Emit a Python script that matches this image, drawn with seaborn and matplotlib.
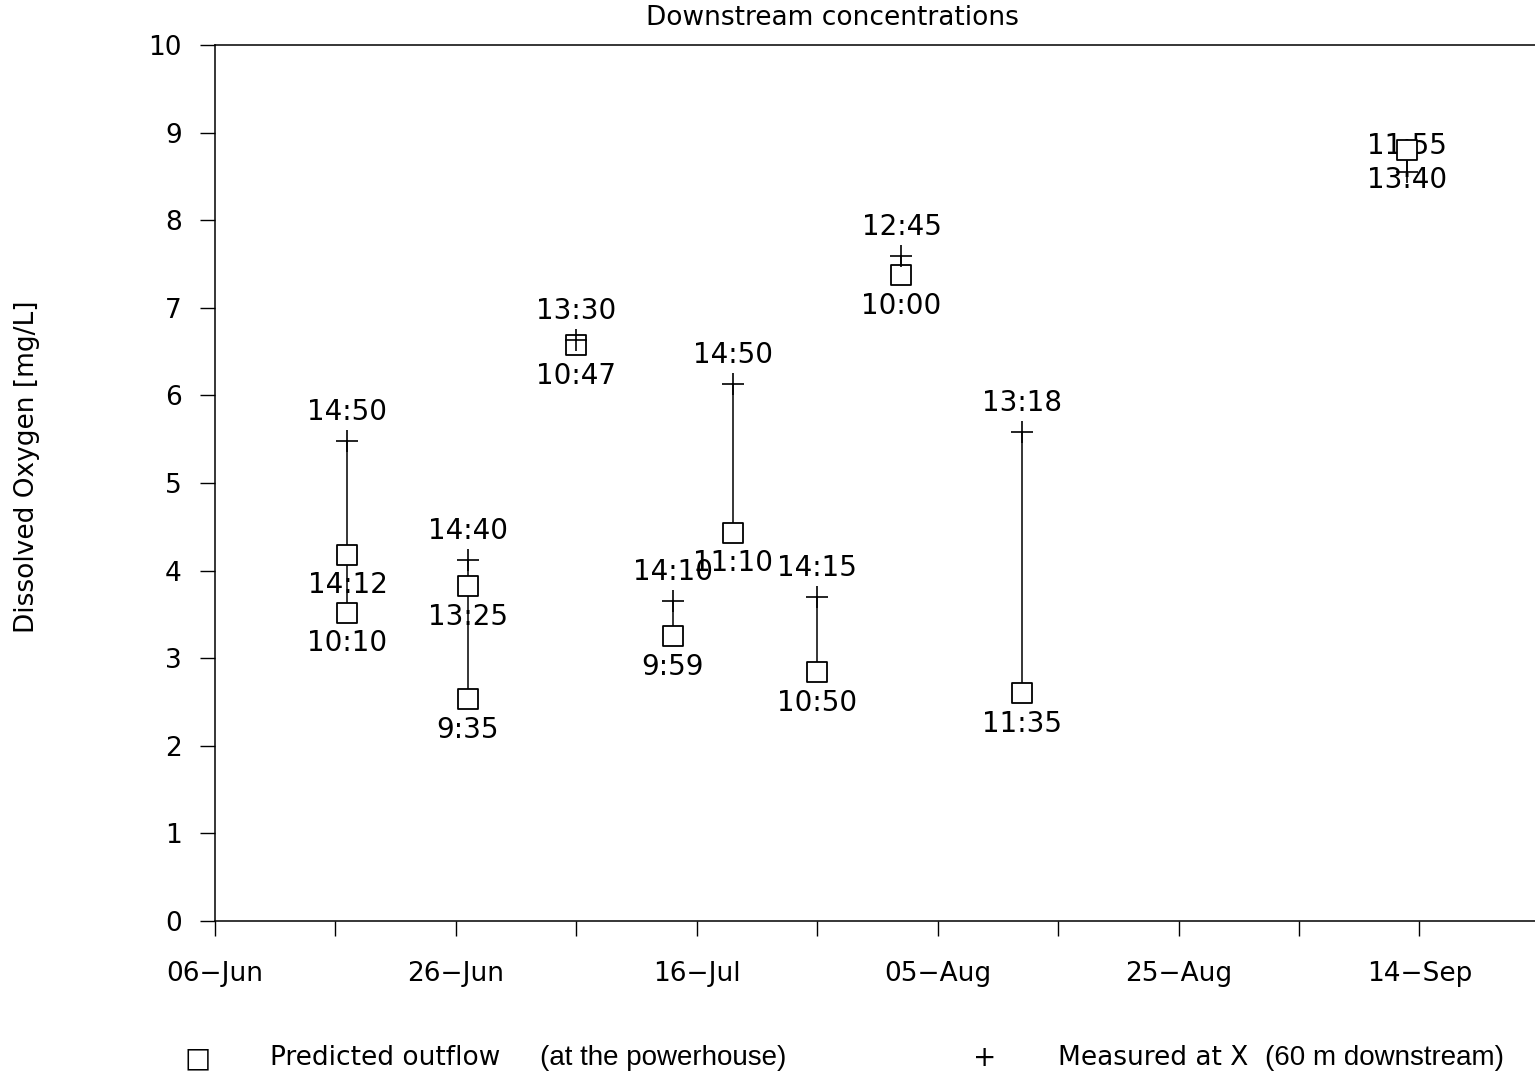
import matplotlib
matplotlib.use("Agg")
import matplotlib.pyplot as plt
import seaborn as sns
import pandas as pd
import numpy as np

# ---- data ----
pred_dates = ['2000-06-17', '2000-06-17', '2000-06-27', '2000-06-27', '2000-07-06',
              '2000-07-14', '2000-07-19', '2000-07-26', '2000-08-02', '2000-08-12', '2000-09-13']
pred_values = [4.18, 3.52, 3.82, 2.53, 6.57, 3.25, 4.43, 2.84, 7.37, 2.60, 8.80]
pred_times = ['14:12', '10:10', '13:25', '9:35', '10:47', '9:59', '11:10', '10:50', '10:00', '11:35', '11:55']

meas_dates = ['2000-06-17', '2000-06-27', '2000-07-06', '2000-07-14', '2000-07-19',
              '2000-07-26', '2000-08-02', '2000-08-12', '2000-09-13']
meas_values = [5.48, 4.12, 6.63, 3.65, 6.13, 3.70, 7.59, 5.58, 8.55]
meas_times = ['14:50', '14:40', '13:30', '14:10', '14:50', '14:15', '12:45', '13:18', '13:40']

tick_dates = ['2000-06-06', '2000-06-16', '2000-06-26', '2000-07-06', '2000-07-16', '2000-07-26',
              '2000-08-05', '2000-08-15', '2000-08-25', '2000-09-04', '2000-09-14']
label_dates = ['2000-06-06', '2000-06-26', '2000-07-16', '2000-08-05', '2000-08-25', '2000-09-14']

title = "Downstream concentrations"
ylabel = "Dissolved Oxygen [mg/L]"

# ---- frames ----
pred = pd.DataFrame({'date': pd.to_datetime(pred_dates), 'value': pred_values, 'time': pred_times})
meas = pd.DataFrame({'date': pd.to_datetime(meas_dates), 'value': meas_values, 'time': meas_times})
both = pd.concat([pred[['date', 'value']], meas[['date', 'value']]])
rng = both.groupby('date')['value'].agg(['min', 'max']).reset_index()

sns.set_theme(style="white")
plt.rcParams['font.family'] = ['DejaVu Sans']
plt.rcParams['text.color'] = 'black'
plt.rcParams['xtick.color'] = 'black'
plt.rcParams['ytick.color'] = 'black'
plt.rcParams['xtick.labelcolor'] = 'black'
plt.rcParams['ytick.labelcolor'] = 'black'

fig = plt.figure(figsize=(15.35, 10.75), dpi=100)
ax = fig.add_axes([215 / 1535, (1075 - 921) / 1075, 1 - 215 / 1535, (921 - 45) / 1075])

ax.vlines(rng['date'], rng['min'], rng['max'], color='black', linewidth=1.1, zorder=1)
sns.scatterplot(data=pred, x='date', y='value', marker='s', s=190, facecolors='white',
                edgecolors='black', linewidths=1.3, ax=ax, zorder=3)
sns.scatterplot(data=meas, x='date', y='value', marker='+', s=250, color='black',
                linewidths=1.2, ax=ax, zorder=4)

last = meas['date'].max()
for _, r in meas.iterrows():
    off = -6 if r['date'] == last else 21
    ax.annotate(r['time'], (r['date'], r['value']), xytext=(0, off), textcoords='offset points',
                ha='center', va='center', fontsize=20, color='black', zorder=2)
for _, r in pred.iterrows():
    off = 3 if r['date'] == last else -22
    ax.annotate(r['time'], (r['date'], r['value']), xytext=(0, off), textcoords='offset points',
                ha='center', va='center', fontsize=20, color='black', zorder=2)

start = pd.Timestamp(tick_dates[0])
ax.set_xlim(start, start + pd.Timedelta(days=109.6))
ax.set_ylim(0, 10)
ax.set_yticks(range(0, 11))
ax.set_yticklabels([str(v) for v in range(0, 11)], fontsize=19)
ax.set_xticks(pd.to_datetime(tick_dates))
lbl_set = set(pd.to_datetime(label_dates))
ax.set_xticklabels([d.strftime('%d\u2212%b') if d in lbl_set else '' for d in pd.to_datetime(tick_dates)],
                   fontsize=19)
ax.tick_params(axis='y', direction='out', length=11, width=1.0, pad=13, left=True, color='black')
ax.tick_params(axis='x', direction='out', length=11, width=1.0, pad=18, bottom=True, color='black')
for s in ['left', 'bottom', 'top']:
    ax.spines[s].set_color('black')
    ax.spines[s].set_linewidth(1.1)
ax.spines['right'].set_visible(False)
ax.set_xlabel('')
ax.set_ylabel('')
ax.grid(False)

fig.text(832 / 1535, 1 - 18 / 1075, title, ha='center', va='center', fontsize=19)
fig.text(27 / 1535, 1 - 467 / 1075, ylabel, ha='center', va='center', rotation=90, fontsize=19)

# legend
ly = 1 - 1058 / 1075
fig.text(198 / 1535, ly, '\u25a1', ha='center', va='center', fontsize=20)
fig.text(270 / 1535, ly, 'Predicted outflow', ha='left', va='center', fontsize=19)
fig.text(540 / 1535, ly, '(at the powerhouse)', ha='left', va='center', fontsize=20,
         family='Liberation Sans')
fig.text(985 / 1535, ly, '+', ha='center', va='center', fontsize=20)
fig.text(1058 / 1535, ly, 'Measured at X', ha='left', va='center', fontsize=19)
fig.text(1265 / 1535, ly, '(60 m downstream)', ha='left', va='center', fontsize=20,
         family='Liberation Sans')

fig.savefig('out.png', dpi=100, facecolor='white')
